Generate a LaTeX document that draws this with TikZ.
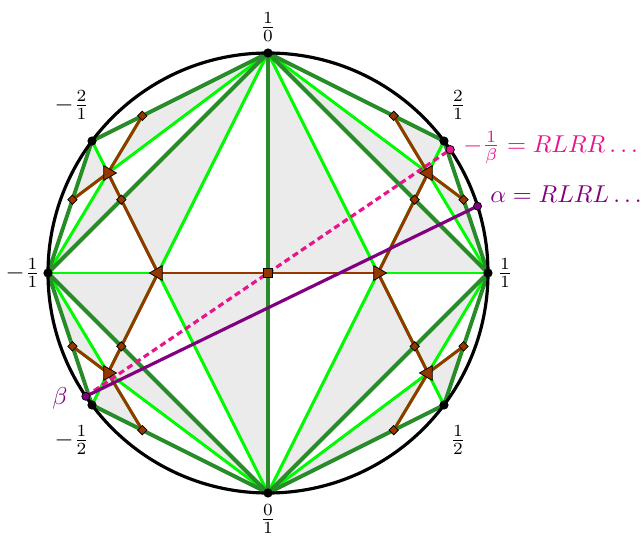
\documentclass[tikz,border=0pt]{standalone}
\usepackage{amsmath,amssymb}
\usepackage{tikz}
\usetikzlibrary{shapes.geometric}
\usepackage{xcolor}

\definecolor{fgreen}{RGB}{40,140,40}
\definecolor{lgreen}{RGB}{0,250,0}
\definecolor{tbrown}{RGB}{150,55,0}
\definecolor{lgray}{RGB}{235,235,235}
\definecolor{apurple}{RGB}{128,0,128}
\definecolor{bpink}{RGB}{232,20,140}

\tikzset{
  farey/.style={fgreen, line width=1.6pt},
  medline/.style={lgreen, line width=1.2pt},
  tree/.style={tbrown, line width=1.2pt},
  tri/.style={regular polygon, regular polygon sides=3, fill=tbrown, draw=black,
    line width=0.3pt, inner sep=0pt, minimum size=7pt},
  dia/.style={rectangle, fill=tbrown, draw=black, line width=0.3pt,
    inner sep=0pt, minimum size=2.7pt},
  vert/.style={fill=black},
}

\begin{document}
\begin{tikzpicture}[x=0.41pt, y=0.41pt]
\useasboundingbox (-268,-264) rectangle (374,273);

% points on the circle
\foreach \n/\a in {inf/90, zero/-90, one/0, mone/180, two/36.87, mtwo/143.13,
    half/-36.87, mhalf/216.87, three/61.93, mthree/118.07, third/-61.93,
    mthird/-118.07, thalf/16.26, mthalf/163.74, twoth/-16.26, mtwoth/196.26}
  \coordinate (\n) at (\a:220);

% feet on the edges and centres of the triangles
\coordinate (fIZ) at (intersection of inf--zero and one--mone);
\coordinate (fIO) at (intersection of inf--one and zero--two);
\coordinate (fZO) at (intersection of zero--one and inf--half);
\coordinate (fIM) at (intersection of inf--mone and zero--mtwo);
\coordinate (fZM) at (intersection of zero--mone and inf--mhalf);
\coordinate (cR) at (intersection of inf--half and zero--two);
\coordinate (cL) at (intersection of inf--mhalf and zero--mtwo);
\coordinate (cA) at (intersection of zero--two and inf--thalf);
\coordinate (fIT) at (intersection of inf--two and one--three);
\coordinate (fTO) at (intersection of two--one and inf--thalf);
\coordinate (cB) at (intersection of inf--half and one--third);
\coordinate (fHZ) at (intersection of half--zero and one--third);
\coordinate (fOH) at (intersection of one--half and zero--twoth);
\coordinate (cC) at (intersection of zero--mtwo and inf--mthalf);
\coordinate (fIMT) at (intersection of inf--mtwo and mone--mthree);
\coordinate (fMTM) at (intersection of mtwo--mone and inf--mthalf);
\coordinate (cD) at (intersection of inf--mhalf and mone--mthird);
\coordinate (fMHZ) at (intersection of mhalf--zero and mone--mthird);
\coordinate (fMMH) at (intersection of mone--mhalf and zero--mtwoth);

% shaded halves of the subdivided triangles
\foreach \v/\f/\c in {inf/fIZ/cR, one/fIO/cR, zero/fZO/cR,
    inf/fIM/cL, zero/fIZ/cL, mone/fZM/cL,
    inf/fIO/cA, two/fIT/cA, one/fTO/cA,
    one/fZO/cB, half/fOH/cB, zero/fHZ/cB,
    inf/fIMT/cC, mone/fIM/cC, mtwo/fMTM/cC,
    mone/fMMH/cD, zero/fZM/cD, mhalf/fMHZ/cD}
  \fill[lgray] (\v) -- (\f) -- (\c) -- cycle;

% medians
\foreach \v/\f in {inf/fZO, zero/fIO, one/fIZ, inf/fZM, zero/fIM, mone/fIZ,
    inf/fTO, one/fIT, two/fIO, half/fZO, one/fHZ, zero/fOH,
    inf/fMTM, mone/fIMT, mtwo/fIM, mhalf/fZM, mone/fMHZ, zero/fMMH}
  \draw[medline] (\v) -- (\f);

% Farey edges
\foreach \p/\q in {inf/zero, inf/one, inf/mone, zero/one, zero/mone, inf/two,
    two/one, one/half, half/zero, inf/mtwo, mtwo/mone, mone/mhalf, mhalf/zero}
  \draw[farey] (\p) -- (\q);

% dual tree
\foreach \c/\f in {cR/fIZ, cR/fIO, cR/fZO, cL/fIZ, cL/fIM, cL/fZM,
    cA/fIO, cA/fIT, cA/fTO, cB/fZO, cB/fHZ, cB/fOH,
    cC/fIM, cC/fIMT, cC/fMTM, cD/fZM, cD/fMHZ, cD/fMMH}
  \draw[tree] (\c) -- (\f);

% the geodesics
\coordinate (alpha) at (17.7:220);
\coordinate (mbeta) at (34.1:220);
\coordinate (beta) at (214.1:220);
\draw[bpink, line width=1.3pt, dash pattern=on 2.5pt off 1.6pt] (beta) -- (mbeta);
\draw[apurple, line width=1.3pt] (beta) -- (alpha);

% markers
\foreach \c in {cR, cC, cD}
  \node[tri, shape border rotate=-90] (t\c) at (\c) {};
\foreach \c in {cL, cA, cB}
  \node[tri, shape border rotate=90] (t\c) at (\c) {};
\node[dia, minimum size=3.4pt] (sq) at (fIZ) {};
\foreach \f in {fIO, fZO, fIM, fZM, fIT, fTO, fHZ, fOH, fIMT, fMTM, fMHZ, fMMH}
  \node[dia, rotate=45] (d\f) at (\f) {};

\draw[line width=1.3pt] (0,0) circle (220);

\foreach \p in {inf, zero, one, mone, two, mtwo, half, mhalf}
  \fill[vert] (\p) circle (4.6);
\filldraw[fill=bpink, draw=black, line width=0.3pt] (mbeta) circle (4.2);
\filldraw[fill=apurple, draw=black, line width=0.3pt] (beta) circle (4);
\filldraw[fill=apurple, draw=black, line width=0.3pt] (alpha) circle (4);

% labels
\node (l10) at (0,246) {$\frac{1}{0}$};
\node (l01) at (0,-246) {$\frac{0}{1}$};
\node (l11) at (237,0) {$\frac{1}{1}$};
\node (lm11) at (-245,0) {$-\frac{1}{1}$};
\node (l21) at (190,168) {$\frac{2}{1}$};
\node (lm21) at (-196,168) {$-\frac{2}{1}$};
\node (l12) at (190,-167) {$\frac{1}{2}$};
\node (lm12) at (-196,-167) {$-\frac{1}{2}$};
\node[apurple] (lbeta) at (-208,-125) {$\beta$};
\node[apurple, anchor=base west, inner sep=0pt] (lalpha) at (222,71)
  {$\alpha = RLRL\ldots$};
\node[bpink, anchor=base west, inner sep=0pt] (lmbeta) at (195,121)
  {$-\frac{1}{\beta} = RLRR\ldots$};
\end{tikzpicture}
\end{document}
